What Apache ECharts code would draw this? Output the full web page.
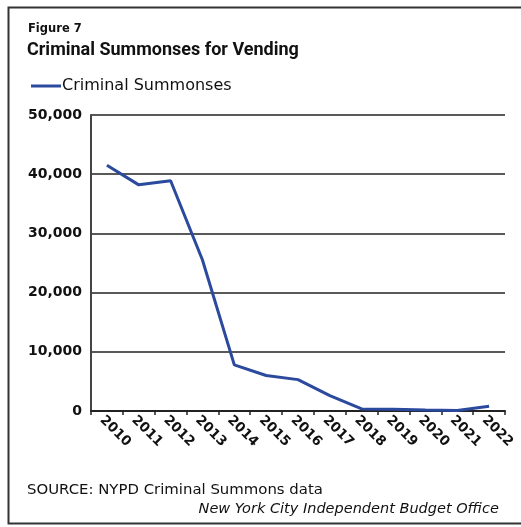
<!DOCTYPE html>
<html>
<head>
<meta charset="utf-8">
<script src="https://cdn.jsdelivr.net/npm/echarts@6/dist/echarts.min.js"></script>
<style>
html,body{margin:0;padding:0;background:#fff;}
#c{width:521px;height:527px;}
</style>
</head>
<body>
<div id="c"></div>
<script>
var years = ['2010','2011','2012','2013','2014','2015','2016','2017','2018','2019','2020','2021','2022'];
var summonses = [41500, 38200, 38900, 25500, 7800, 6000, 5300, 2600, 350, 300, 150, 100, 800];
var seriesName = 'Criminal Summonses';
var yTicks = {min: 0, max: 50000, interval: 10000};

var chart = echarts.init(document.getElementById('c'), null, {renderer: 'canvas'});
var font = '"DejaVu Sans", sans-serif';
chart.setOption({
  animation: false,
  backgroundColor: '#fff',
  textStyle: {fontFamily: font},
  graphic: [
    {type: 'polyline', shape: {points: [[530, 7.5], [8.5, 7.5], [8.5, 523.5], [530, 523.5]]},
     style: {stroke: '#333', lineWidth: 2, fill: null}},
    {type: 'text', left: 28, top: 23, style: {text: 'Figure 7', font: 'bold 11.5px ' + font, fill: '#111'}},
    {type: 'text', left: 27, top: 41, style: {text: 'Criminal Summonses for Vending', font: 'bold 18px Roboto, sans-serif', fill: '#111'}},
    {type: 'text', left: 27, top: 483, style: {text: 'SOURCE: NYPD Criminal Summons data', font: '14.9px ' + font, fill: '#111'}},
    {type: 'text', right: 22, top: 502, style: {text: 'New York City Independent Budget Office', font: 'italic 14.5px ' + font, fill: '#111'}}
  ],
  legend: {
    left: 26, top: 73,
    icon: 'rect', itemWidth: 30, itemHeight: 3, itemGap: 2,
    textStyle: {fontSize: 16, color: '#111', fontFamily: font, padding: [0, 0, 0, -4]},
    data: [seriesName]
  },
  grid: {left: 91, right: 16, top: 115, bottom: 116, containLabel: false},
  xAxis: {
    type: 'category',
    data: years,
    boundaryGap: true,
    axisLine: {lineStyle: {color: '#222', width: 2}},
    axisTick: {show: true, length: 4, lineStyle: {color: '#222', width: 1.5}},
    axisLabel: {rotate: -45, fontSize: 13.5, color: '#111', fontWeight: 'bold', margin: 2,
      verticalAlign: 'top', interval: 0}
  },
  yAxis: {
    type: 'value',
    min: yTicks.min, max: yTicks.max, interval: yTicks.interval,
    axisLine: {show: true, lineStyle: {color: '#444', width: 2}},
    axisTick: {show: false},
    splitLine: {lineStyle: {color: '#222', width: 1.5}},
    axisLabel: {fontSize: 14, color: '#111', fontWeight: 'bold', margin: 9,
      formatter: function (v) { return v.toLocaleString('en-US'); }}
  },
  series: [{
    name: seriesName,
    type: 'line',
    data: summonses,
    symbol: 'none',
    lineStyle: {color: '#2b4a9e', width: 3},
    itemStyle: {color: '#2b4a9e'}
  }]
});
</script>
</body>
</html>
